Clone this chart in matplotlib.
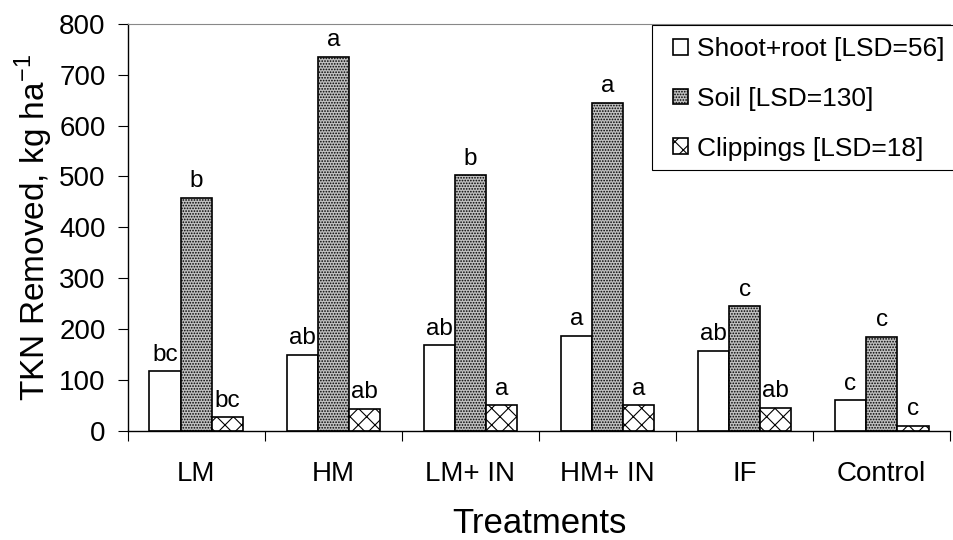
'''
    TKN removed per treatment: shoot+root, soil and clippings
'''

# - Imports

import matplotlib.pyplot as plt
from matplotlib.patches import Rectangle
import numpy as np

# - Data

treatments = ["LM", "HM", "LM+ IN", "HM+ IN", "IF", "Control"]
shoot_root = [117, 150, 168, 187, 158, 60]
soil = [458, 735, 502, 645, 245, 185]
clippings = [27, 43, 50, 50, 45, 10]

shoot_letters = ["bc", "ab", "ab", "a", "ab", "c"]
soil_letters = ["b", "a", "b", "a", "c", "c"]
clip_letters = ["bc", "ab", "a", "a", "ab", "c"]

series_labels = ["Shoot+root [LSD=56]", "Soil [LSD=130]", "Clippings [LSD=18]"]

# - Plot

def main():
    '''Main'''

    plt.rcParams['font.family'] = ['Liberation Sans', 'DejaVu Sans']
    plt.rcParams['mathtext.fontset'] = 'custom'
    plt.rcParams['mathtext.rm'] = 'Liberation Sans'
    plt.rcParams['hatch.linewidth'] = 0.8

    fig = plt.figure(figsize=(9.54, 5.4), dpi=100)
    axes = fig.add_axes([0.134, 0.202, 0.862, 0.754])

    x = np.arange(len(treatments))
    width = 0.228

    bars_shoot = axes.bar(x - width, shoot_root, width, facecolor="white",
                          edgecolor="black", linewidth=1.2, label=series_labels[0])
    bars_soil = axes.bar(x, soil, width, facecolor="#c0c0c0", hatch="......",
                         edgecolor="black", linewidth=1.2, label=series_labels[1])
    bars_clip = axes.bar(x + width, clippings, width, facecolor="white", hatch="xx",
                         edgecolor="black", linewidth=1.2, label=series_labels[2])

    # Significance letters above each bar
    for bars, letters in [(bars_shoot, shoot_letters), (bars_soil, soil_letters),
                          (bars_clip, clip_letters)]:
        for bar, letter in zip(bars, letters):
            axes.annotate(letter, (bar.get_x() + bar.get_width()/2, bar.get_height()),
                          xytext=(0, 4), textcoords="offset points",
                          ha="center", va="bottom", fontsize=17.5)

    axes.set_xlim(-0.5, len(treatments) - 0.5)
    axes.set_ylim(0, 800)
    axes.set_yticks(range(0, 801, 100))
    axes.tick_params(axis="y", labelsize=20, direction="out", length=7, width=0.8, pad=9)

    # Labels at group centres, tick marks between groups
    axes.set_xticks(x)
    axes.set_xticklabels(treatments, fontsize=20)
    axes.tick_params(axis="x", which="major", length=0, pad=22)
    axes.set_xticks(np.arange(len(treatments) + 1) - 0.5, minor=True)
    axes.tick_params(axis="x", which="minor", length=7, width=0.8, direction="out")

    axes.set_ylabel("TKN Removed, kg ha$^{\\mathregular{-1}}$", fontsize=24, labelpad=3)
    axes.set_xlabel("Treatments", fontsize=25, labelpad=14)

    axes.spines["right"].set_visible(False)
    axes.spines["top"].set_color("#888888")
    axes.spines["top"].set_linewidth(0.8)
    axes.spines["left"].set_linewidth(1.0)
    axes.spines["bottom"].set_linewidth(1.0)

    # Legend without its own frame; box drawn separately so the padding matches
    axes.legend(loc="upper left", bbox_to_anchor=(673/954, 1 - 37/540),
                bbox_transform=fig.transFigure, fontsize=19,
                handlelength=0.55, handleheight=0.55, handletextpad=0.35,
                labelspacing=0.98, borderpad=0.0, borderaxespad=0.0,
                frameon=False)
    axes.add_patch(Rectangle((652/954, 1 - 170/540), 310/954, 145/540,
                             transform=fig.transFigure, facecolor="white",
                             edgecolor="black", linewidth=0.8, zorder=4,
                             clip_on=False))

    fig.savefig("out.png", dpi=100)


# - Main

if __name__ == "__main__":
    main()
